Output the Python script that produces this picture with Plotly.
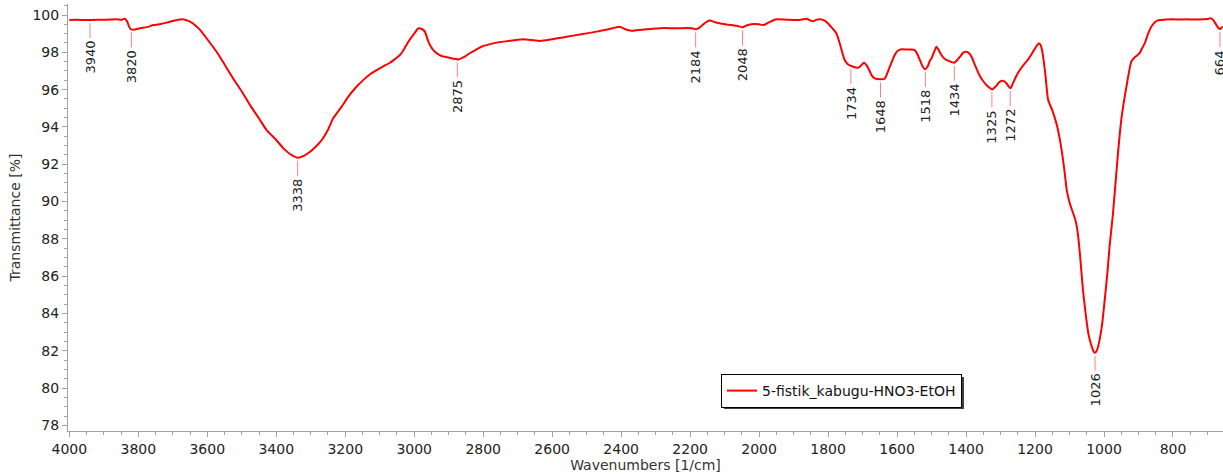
import numpy as np
import plotly.graph_objects as go

# ---- spectrum (wavenumber [1/cm], transmittance [%]) ----
wavenumbers = [
    4000, 3980, 3950, 3920, 3890, 3863, 3850, 3839, 3832, 3826, 3821, 3810, 3795, 3775, 3756, 3735,
    3718, 3700, 3674, 3660, 3650, 3635, 3621, 3600, 3573, 3550, 3525, 3500, 3476, 3450, 3428, 3400,
    3379, 3360, 3338, 3320, 3302, 3285, 3268, 3250, 3235, 3210, 3191, 3170, 3148, 3130, 3109, 3090,
    3070, 3055, 3041, 3030, 3017, 3000, 2988, 2978, 2969, 2959, 2948, 2940, 2921, 2900, 2872, 2855,
    2839, 2820, 2800, 2780, 2761, 2730, 2700, 2684, 2660, 2636, 2600, 2558, 2520, 2471, 2440, 2404,
    2390, 2370, 2350, 2327, 2300, 2278, 2240, 2210, 2191, 2184, 2175, 2167, 2155, 2143, 2125, 2104,
    2080, 2060, 2048, 2035, 2017, 2000, 1988, 1970, 1950, 1920, 1892, 1875, 1863, 1853, 1843, 1835,
    1824, 1810, 1800, 1788, 1776, 1765, 1752, 1742, 1734, 1722, 1713, 1704, 1696, 1688, 1681, 1673,
    1665, 1648, 1636, 1628, 1621, 1614, 1607, 1598, 1587, 1570, 1558, 1549, 1541, 1534, 1526, 1519,
    1511, 1505, 1500, 1492, 1486, 1480, 1474, 1465, 1457, 1445, 1434, 1425, 1418, 1408, 1399, 1391,
    1384, 1375, 1360, 1350, 1341, 1332, 1324, 1315, 1306, 1297, 1290, 1283, 1277, 1271, 1265, 1255,
    1244, 1232, 1220, 1212, 1206, 1197, 1189, 1183, 1178, 1170, 1162, 1150, 1136, 1125, 1115, 1108,
    1099, 1090, 1082, 1076, 1070, 1061, 1051, 1044, 1037, 1030, 1026, 1020, 1013, 1005, 998, 990,
    984, 974, 966, 958, 950, 942, 935, 928, 921, 910, 897, 890, 882, 872, 863, 850,
    839, 820, 800, 780, 760, 740, 713, 700, 689, 682, 674, 668, 664, 660, 656,
]
transmittance = [
    99.73, 99.74, 99.73, 99.74, 99.75, 99.77, 99.74, 99.80, 99.64, 99.35, 99.23, 99.22, 99.29, 99.35, 99.46, 99.52,
    99.59, 99.68, 99.77, 99.72, 99.64, 99.45, 99.20, 98.70, 98.03, 97.35, 96.60, 95.90, 95.17, 94.45, 93.83, 93.30,
    92.85, 92.55, 92.35, 92.45, 92.67, 92.95, 93.30, 93.85, 94.46, 95.10, 95.62, 96.10, 96.51, 96.80, 97.05, 97.25,
    97.44, 97.65, 97.86, 98.15, 98.57, 99.00, 99.29, 99.25, 99.11, 98.57, 98.20, 98.03, 97.80, 97.72, 97.62, 97.75,
    97.95, 98.15, 98.34, 98.44, 98.52, 98.60, 98.67, 98.70, 98.66, 98.61, 98.70, 98.84, 98.95, 99.11, 99.22, 99.37,
    99.25, 99.16, 99.20, 99.23, 99.27, 99.30, 99.29, 99.30, 99.28, 99.23, 99.30, 99.41, 99.60, 99.70, 99.60, 99.52,
    99.46, 99.40, 99.34, 99.45, 99.52, 99.50, 99.46, 99.62, 99.77, 99.75, 99.73, 99.76, 99.80, 99.72, 99.66, 99.74,
    99.77, 99.70, 99.55, 99.30, 99.02, 98.40, 97.59, 97.35, 97.28, 97.20, 97.17, 97.30, 97.44, 97.30, 97.05, 96.75,
    96.60, 96.55, 96.58, 96.90, 97.23, 97.55, 97.86, 98.08, 98.16, 98.15, 98.15, 98.12, 97.90, 97.59, 97.25, 97.09,
    97.25, 97.55, 97.68, 98.05, 98.30, 98.15, 97.94, 97.70, 97.59, 97.50, 97.44, 97.60, 97.76, 97.98, 98.03, 97.95,
    97.76, 97.35, 96.73, 96.45, 96.25, 96.10, 96.01, 96.15, 96.35, 96.48, 96.45, 96.34, 96.18, 96.07, 96.30, 96.70,
    97.05, 97.35, 97.62, 97.85, 98.03, 98.30, 98.48, 98.35, 97.94, 96.80, 95.44, 94.90, 94.05, 93.00, 91.70, 90.60,
    89.90, 89.40, 88.95, 88.30, 87.22, 85.25, 83.65, 82.80, 82.31, 81.95, 81.89, 82.05, 82.57, 83.50, 84.72, 86.20,
    87.57, 89.36, 91.15, 92.90, 94.37, 95.40, 96.16, 96.90, 97.50, 97.75, 97.95, 98.20, 98.48, 99.00, 99.37, 99.65,
    99.73, 99.76, 99.77, 99.76, 99.77, 99.76, 99.77, 99.79, 99.82, 99.70, 99.46, 99.30, 99.25, 99.30, 99.40,
]

# ---- labelled peaks ----
peak_wavenumbers = [3940, 3820, 3338, 2875, 2184, 2048, 1734, 1648, 1518, 1434, 1325, 1272, 1026, 664]
peak_labels = [str(p) for p in peak_wavenumbers]

series_name = "5-fistik_kabugu-HNO3-EtOH"
x_ticks = list(range(800, 4001, 200))
y_ticks = list(range(78, 101, 2))

FONT = "DejaVu Sans"
AXIS_GREY = "#a0a0a0"

# plot-area geometry in pixels (for paper-referenced legend placement)
L, R, T, B = 68, 1223, 4, 431
PW, PH = R - L, B - T

wn_arr = np.array(wavenumbers[::-1], dtype=float)
tr_arr = np.array(transmittance[::-1], dtype=float)
peak_values = [float(np.interp(p, wn_arr, tr_arr)) for p in peak_wavenumbers]

fig = go.Figure()
fig.add_trace(go.Scatter(
    x=wavenumbers, y=transmittance, mode="lines", name=series_name,
    line=dict(color="#ff0000", width=2, shape="spline", smoothing=0.5),
))

shapes = []
annotations = []
for px, py, lab in zip(peak_wavenumbers, peak_values, peak_labels):
    shapes.append(dict(
        type="line", xref="x", yref="y", ysizemode="pixel", yanchor=py,
        x0=px, x1=px, y0=-3, y1=-18,
        line=dict(color="#ff8080", width=1),
    ))
    annotations.append(dict(
        x=px, y=py, xref="x", yref="y", text=lab, showarrow=False,
        textangle=-90, xanchor="center", yanchor="top", yshift=-19,
        font=dict(family=FONT, size=13, color="#222222"),
    ))

# legend shadow (drawn under the legend box, offset 2 px right/down)
shapes.append(dict(
    type="rect", xref="paper", yref="paper",
    x0=(724 - L) / PW, x1=(964 - L) / PW,
    y0=(B - 409) / PH, y1=(B - 377) / PH,
    fillcolor="#404040", line=dict(width=0), layer="above",
))

fig.update_layout(
    width=1223, height=475,
    margin=dict(l=L, r=1223 - R, t=T, b=475 - B, autoexpand=False),
    paper_bgcolor="white", plot_bgcolor="white",
    font=dict(family=FONT, size=14, color="#222222"),
    showlegend=True,
    legend=dict(
        x=(721 - L) / PW, y=(B - 374) / PH, xanchor="left", yanchor="top",
        bgcolor="white", bordercolor="#000000", borderwidth=1,
        itemwidth=30, font=dict(family=FONT, size=14, color="#111111"),
        tracegroupgap=0,
    ),
    shapes=shapes,
    annotations=annotations,
    xaxis=dict(
        range=[4003.8, 655], tickmode="array", tickvals=x_ticks,
        ticktext=[str(t) for t in x_ticks], automargin=False,
        showgrid=False, zeroline=False, showline=True, linecolor=AXIS_GREY, linewidth=1,
        ticks="outside", ticklen=5, tickcolor=AXIS_GREY,
        minor=dict(dtick=50, tick0=0, ticks="outside", ticklen=3, tickcolor=AXIS_GREY, showgrid=False),
        title=dict(text="Wavenumbers [1/cm]", standoff=4, font=dict(family=FONT, size=14, color="#333333")),
        tickfont=dict(family=FONT, size=14, color="#222222"),
    ),
    yaxis=dict(
        range=[77.70, 100.59], tickmode="array", tickvals=y_ticks,
        ticktext=[str(t) for t in y_ticks], automargin=False,
        showgrid=False, zeroline=False, showline=True, linecolor=AXIS_GREY, linewidth=1,
        ticks="outside", ticklen=5, tickcolor=AXIS_GREY,
        minor=dict(dtick=0.5, tick0=0, ticks="outside", ticklen=3, tickcolor=AXIS_GREY, showgrid=False),
        title=dict(text="Transmittance [%]", standoff=8, font=dict(family=FONT, size=14, color="#333333")),
        tickfont=dict(family=FONT, size=14, color="#222222"),
    ),
)

fig.write_html(
    "out.html",
    config={"displayModeBar": False},
    post_script="document.body.style.margin='0';document.body.style.overflow='hidden';",
)
